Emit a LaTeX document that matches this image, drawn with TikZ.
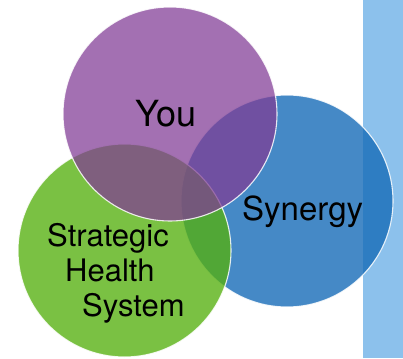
\documentclass[tikz,border=0pt]{standalone}
\usepackage{fontspec}
\setmainfont{TeX Gyre Heros}
\definecolor{stripblue}{RGB}{140,193,236}
\definecolor{vblue}{RGB}{23,108,184}
\definecolor{vpurple}{RGB}{129,59,149}
\definecolor{vgreen}{RGB}{85,176,14}
\begin{document}
\begin{tikzpicture}[x=1pt,y=-1pt,
  circ/.style={circle, inner sep=0pt, draw=white, draw opacity=0.85, line width=1.1pt},
  lbl/.style={inner sep=0pt, anchor=base west, text=black}]
\useasboundingbox (0,0) rectangle (403,358);
\fill[stripblue] (363,0) rectangle (403,358);
\node[circ, fill=vblue, fill opacity=0.8, minimum size=212pt] (cblue) at (287,201) {};
\node[circ, fill=vgreen, fill opacity=0.78, minimum size=213pt] (cgreen) at (124.5,250.5) {};
\node[circ, fill=vpurple, fill opacity=0.73, minimum size=214pt] (cpurple) at (170,114) {};
\node[lbl, font=\fontsize{36}{40}\selectfont] (you) at (135,126) {You};
\node[lbl, font=\fontsize{33}{37}\selectfont] (syn) at (242,220) {Synergy};
\node[lbl, font=\fontsize{31}{35}\selectfont] (s1) at (47,246) {Strategic};
\node[lbl, font=\fontsize{31}{35}\selectfont] (s2) at (65,281.7) {Health};
\node[lbl, font=\fontsize{31}{35}\selectfont] (s3) at (82,316.7) {System};
\end{tikzpicture}
\end{document}
